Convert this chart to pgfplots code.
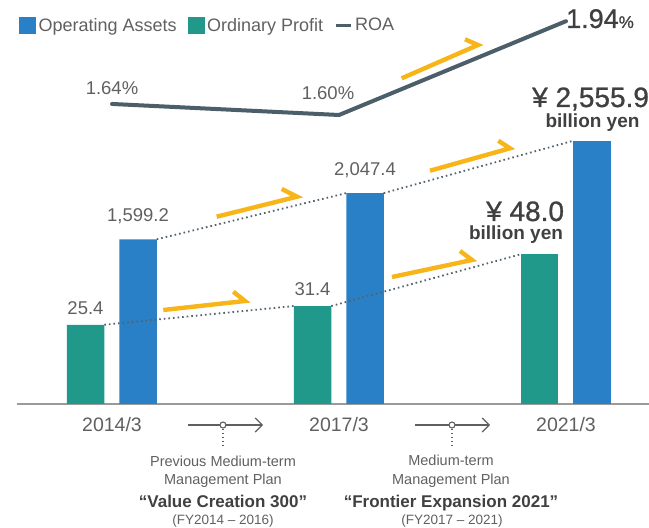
\documentclass[border=0pt]{standalone}
\usepackage{pgfplots}
\pgfplotsset{compat=1.18}
\usepackage{fontspec}
\setmainfont{Liberation Sans}
\newfontfamily\medfont{Liberation Sans}[FakeBold=0.9]
\usetikzlibrary{arrows.meta}
\definecolor{cblue}{HTML}{2A80C6}
\definecolor{cteal}{HTML}{21998A}
\definecolor{cyel}{HTML}{F7B519}
\definecolor{croa}{HTML}{4B5E69}
\definecolor{cdot}{HTML}{52636E}
\definecolor{ctxt}{HTML}{606060}
\definecolor{cdark}{HTML}{404040}
\definecolor{caxis}{HTML}{9A9A9A}
\newcommand{\fs}[1]{\fontsize{#1}{#1}\selectfont}
\pgfplotsset{
  dataaxis/.style={scale only axis, width=632pt, at={(17pt,124pt)}, anchor=south west,
    xmin=-0.4185, xmax=2.3656, ymin=0, clip=false,
    /pgf/number format/assume math mode=true},
  yarrow/.style={cyel, line width=4.4pt, line join=miter, line cap=butt, no markers},
  dots/.style={cdot, line width=1.8pt, dash pattern=on 1.6pt off 3pt, no markers},
}
\begin{document}
\begin{tikzpicture}
% ---------- canvas (pixel coordinates, y up) ----------
\begin{axis}[scale only axis, width=649pt, height=528pt, at={(0pt,0pt)}, anchor=south west,
  xmin=0, xmax=649, ymin=0, ymax=528, hide axis, clip=false,
  legend columns=3,
  legend style={at={(0.02928,0.9678)}, anchor=north west, draw=none, fill=none,
    inner sep=0pt, font=\fs{18}, text=ctxt,
    nodes={inner sep=0pt},
    /tikz/every odd column/.append style={column sep=3pt},
    /tikz/every even column/.append style={column sep=11pt}},
  legend cell align=left]
\addlegendimage{legend image code/.code={\fill[cblue] (0pt,-8pt) rectangle (16pt,8pt);}}
\addlegendentry{Operating Assets}
\addlegendimage{legend image code/.code={\fill[cteal] (0pt,-8pt) rectangle (16pt,8pt);}}
\addlegendentry{Ordinary Profit}
\addlegendimage{legend image code/.code={\draw[croa, line width=3pt] (0pt,0pt) -- (15pt,0pt);}}
\addlegendentry{ROA}
% yellow trend arrows
\addplot[yarrow] coordinates {(233.3,236.3) (245,227) (163.3,218)};
\addplot[yarrow] coordinates {(281.7,339) (297,331.3) (216.7,311.3)};
\addplot[yarrow] coordinates {(498.3,387.3) (510,379.7) (430,357.3)};
\addplot[yarrow] coordinates {(460,277) (472,268) (392,251)};
\addplot[yarrow] coordinates {(465,488.7) (478,483) (401.7,449.7)};
% plan period arrows
\draw[ctxt, line width=1.2pt, -{Straight Barb[length=7pt,width=14pt]}] (axis cs:188,103) -- (axis cs:263,103);
\draw[ctxt, line width=1.2pt, dash pattern=on 1.3pt off 2.7pt] (axis cs:223,99) -- (axis cs:223,80);
\draw[ctxt, line width=1.1pt, fill=white] (axis cs:223,103) circle[radius=3pt];
\draw[ctxt, line width=1.2pt, -{Straight Barb[length=7pt,width=14pt]}] (axis cs:415,103) -- (axis cs:490,103);
\draw[ctxt, line width=1.2pt, dash pattern=on 1.3pt off 2.7pt] (axis cs:452,99) -- (axis cs:452,80);
\draw[ctxt, line width=1.1pt, fill=white] (axis cs:452,103) circle[radius=3pt];
% plan texts
\node[anchor=base, inner sep=0pt, font=\fs{14.5}, text=ctxt] at (axis cs:223,61.5) {Previous Medium-term};
\node[anchor=base, inner sep=0pt, font=\fs{14.5}, text=ctxt] at (axis cs:223,43) {Management Plan};
\node[anchor=base, inner sep=0pt, font=\bfseries\fs{17}, text=cdark] at (axis cs:223,20.5) {“Value Creation 300”};
\node[anchor=base, inner sep=0pt, font=\fs{13.5}, text=ctxt] at (axis cs:223,3) {(FY2014 – 2016)};
\node[anchor=base, inner sep=0pt, font=\fs{14.5}, text=ctxt] at (axis cs:451,62) {Medium-term};
\node[anchor=base, inner sep=0pt, font=\fs{14.5}, text=ctxt] at (axis cs:451,43) {Management Plan};
\node[anchor=base, inner sep=0pt, font=\bfseries\fs{17}, text=cdark] at (axis cs:451,20.5) {“Frontier Expansion 2021”};
\node[anchor=base, inner sep=0pt, font=\fs{13.5}, text=ctxt] at (axis cs:452,3) {(FY2017 – 2021)};
% highlighted values
\node[anchor=base west, inner sep=0pt, text=cdark] at (axis cs:566,500) {\medfont\fs{27}1.94\fs{17}\%};
\node[anchor=base west, inner sep=0pt, font=\medfont\fs{28}, text=cdark] at (axis cs:532,421) {¥ 2,555.9};
\node[anchor=base, inner sep=0pt, font=\bfseries\fs{19}, text=cdark] at (axis cs:592.5,400.5) {billion yen};
\node[anchor=base west, inner sep=0pt, font=\medfont\fs{28}, text=cdark] at (axis cs:486,307) {¥ 48.0};
\node[anchor=base, inner sep=0pt, font=\bfseries\fs{19}, text=cdark] at (axis cs:516,288) {billion yen};
\node[anchor=base, inner sep=0pt, font=\fs{18.5}, text=ctxt] at (axis cs:112,433) {1.64\%};
\node[anchor=base, inner sep=0pt, font=\fs{18.5}, text=ctxt] at (axis cs:328,428.7) {1.60\%};
\end{axis}

% ---------- Operating assets (billion yen) ----------
\begin{axis}[dataaxis, height=391.4pt, ymax=3800,
  axis x line=bottom, axis y line=none,
  axis line style={-, caxis, line width=1.5pt},
  xtick={0,1,2}, xticklabels={2014/3,2017/3,2021/3},
  major tick length=0pt, xtick style={draw=none}, ytick=\empty,
  xticklabel style={font=\fs{19.5}, text=ctxt, anchor=base, yshift=-28pt, inner sep=0pt}]
\addplot[ybar, bar width=37.5pt, bar shift=26pt, fill=cblue, draw=none,
  nodes near coords={\pgfmathprintnumber[fixed,fixed zerofill,precision=1,1000 sep={,},assume math mode=true]{\pgfplotspointmeta}},
  every node near coord/.style={anchor=base, xshift=26pt, yshift=18pt, font=\fs{18.5}, text=ctxt, inner sep=0pt}]
  coordinates {(0,1599.2) (1,2047.4)};
\addplot[ybar, bar width=37.5pt, bar shift=26pt, fill=cblue, draw=none] coordinates {(2,2555.9)};
\addplot[dots] coordinates {(0.197,1599.2) (1.032,2047.4)};
\addplot[dots] coordinates {(1.197,2047.4) (2.032,2555.9)};
\end{axis}

% ---------- Ordinary profit (billion yen) ----------
\begin{axis}[dataaxis, height=374.4pt, ymax=120, hide axis]
\addplot[ybar, bar width=37.5pt, bar shift=-26.5pt, fill=cteal, draw=none,
  nodes near coords={\pgfmathprintnumber[fixed,fixed zerofill,precision=1,assume math mode=true]{\pgfplotspointmeta}},
  every node near coord/.style={anchor=base, xshift=-26.5pt, yshift=10.5pt, font=\fs{18.5}, text=ctxt, inner sep=0pt}]
  coordinates {(0,25.4) (1,31.4)};
\addplot[ybar, bar width=37.5pt, bar shift=-26.5pt, fill=cteal, draw=none] coordinates {(2,48.0)};
\addplot[dots] coordinates {(-0.034,25.4) (0.801,31.4)};
\addplot[dots] coordinates {(0.966,31.4) (1.801,48.0)};
\end{axis}

% ---------- ROA (%) ----------
\begin{axis}[scale only axis, width=632pt, height=110.4pt, at={(17pt,413pt)}, anchor=south west,
  xmin=-0.4185, xmax=2.3656, ymin=1.6, ymax=2.0, hide axis, clip=false]
\addplot[croa, line width=4pt, line cap=round, line join=miter, no markers]
  coordinates {(0,1.64) (1,1.60) (2,1.94)};
\end{axis}
\pgfresetboundingbox
\useasboundingbox (0pt,0pt) rectangle (649pt,528pt);
\end{tikzpicture}
\end{document}
